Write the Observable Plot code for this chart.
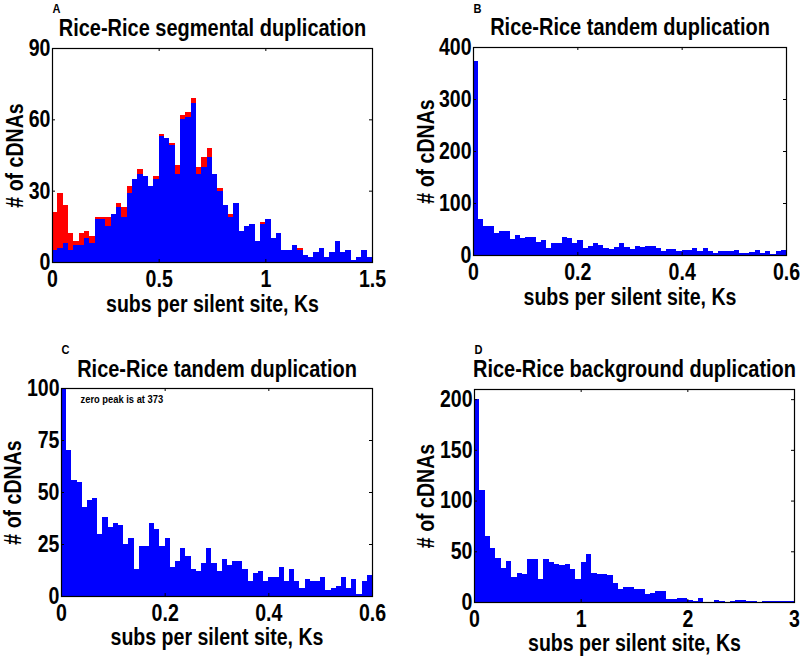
<!DOCTYPE html>
<html><head><meta charset="utf-8">
<script src="https://cdn.jsdelivr.net/npm/d3@7"></script>
<script src="https://cdn.jsdelivr.net/npm/@observablehq/plot@0.6"></script>
<style>
body{margin:0;background:#fff;}
#wrap{position:relative;width:800px;height:657px;background:#fff;overflow:hidden;}
#wrap > svg{position:absolute;}
</style></head><body><div id="wrap"></div>
<script>
// ---------- data ----------
const titles = ["Rice-Rice segmental duplication", "Rice-Rice tandem duplication", "Rice-Rice tandem duplication", "Rice-Rice background duplication"];
const letters = ["A", "B", "C", "D"];
const xLabel = "subs per silent site, Ks";
const yLabel = "# of cDNAs";
const note = "zero peak is at 373";

// Panel A: Ks bins of 0.025 (0 - 1.5), blue part and red part stacked on top
const binA = 0.025;
const segBlue = [5,6,8,5,7,7,10,8,18,18,15,20,23,19,29,35,37,36,32,35,53,52,49,37,60,61,67,37,40,44,37,30,24,19,25,13,15,16,9,16,18,10,12,5,5,7,5,3,2,4,6,2,4,9,4,5,1,2,5,2];
const segRed  = [16,23,16,7,2,5,3,3,1,1,4,0,2,4,3,0,2,0,0,1,1,0,1,4,2,2,2,3,4,4,0,1,0,1,0,0,0,0,0,1,0,0,0,0,0,0,1,0,0,0,0,0,0,0,0,0,0,0,0,0];

// Panels B and C: tandem duplication, bins of 0.01 (0 - 0.6)
const binT = 0.01;
const tandem = [373,70,56,55,43,46,47,30,38,33,35,34,25,28,13,24,24,35,32,24,28,14,17,23,19,13,12,16,23,16,12,18,15,17,17,13,7,11,12,7,9,9,14,7,13,7,4,8,7,7,9,3,4,5,9,4,8,1,7,10];

// Panel D: background duplication, bins of 0.05 (0 - 3)
const binD = 0.05;
const background = [200,110,65,53,43,34,40,25,29,28,42,42,23,42,39,37,36,37,33,23,39,47,29,28,28,27,19,13,15,15,13,13,8,9,11,11,3,3,4,4,2,1,4,0,0,2,1,0,1,2,2,1,1,0,1,1,1,1,1,1];

// ticks
const xTicksA = [0, 0.5, 1, 1.5], xTickLabelsA = ["0", "0.5", "1", "1.5"];
const yTicksA = [0, 30, 60, 90], yTickLabelsA = ["0", "30", "60", "90"];
const xTicksB = [0, 0.2, 0.4, 0.6], xTickLabelsB = ["0", "0.2", "0.4", "0.6"];
const yTicksB = [0, 100, 200, 300, 400], yTickLabelsB = ["0", "100", "200", "300", "400"];
const yTicksC = [0, 25, 50, 75, 100], yTickLabelsC = ["0", "25", "50", "75", "100"];
const xTicksD = [0, 1, 2, 3], xTickLabelsD = ["0", "1", "2", "3"];
const yTicksD = [0, 50, 100, 150, 200], yTickLabelsD = ["0", "50", "100", "150", "200"];

// ---------- helpers ----------
const FONT = '"Liberation Sans",Arial,sans-serif';
const NARROW = 0.85; // horizontal squeeze to imitate a narrow bold face
const BLUE = "#0000ff", RED = "#ff0000";
const rows = (vals, w, base) => vals.map((v, i) => ({x1: i * w, x2: (i + 1) * w, y1: base ? base[i] : 0, y2: (base ? base[i] : 0) + v}));

function panel(o) {
  const fw = o.width - o.ml - o.mr, fh = o.height - o.mt - o.mb;
  const xl = new Map(o.xTicks.map((t, i) => [t, o.xTickLabels[i]]));
  const yl = new Map(o.yTicks.map((t, i) => [t, o.yTickLabels[i]]));
  const svg = Plot.plot({
    width: o.width, height: o.height,
    marginLeft: o.ml, marginRight: o.mr, marginTop: o.mt, marginBottom: o.mb,
    x: {domain: o.xDomain, label: null},
    y: {domain: o.yDomain, label: null},
    style: {fontFamily: FONT, fontWeight: "bold", color: "black", background: "transparent", overflow: "visible"},
    marks: [
      ...o.bars,
      Plot.frame({stroke: "black", strokeWidth: 1.2}),
      Plot.tickX(o.xTicks, {x: d => d, insetTop: fh - 3, stroke: "black"}),
      Plot.tickX(o.xTicks, {x: d => d, insetBottom: fh - 3, stroke: "black"}),
      Plot.tickY(o.yTicks, {y: d => d, insetRight: fw - 3, stroke: "black"}),
      Plot.tickY(o.yTicks, {y: d => d, insetLeft: fw - 3, stroke: "black"}),
      Plot.axisX(o.xTicks, {tickSize: 0, tickPadding: 8, tickFormat: d => xl.get(d), fontSize: 23, fontWeight: "bold", label: null}),
      Plot.axisY(o.yTicks, {tickSize: 0, tickPadding: 2, tickFormat: d => yl.get(d), fontSize: 23, fontWeight: "bold", label: null}),
      Plot.text([o.title], {frameAnchor: "top", lineAnchor: "bottom", dy: o.titleDy, text: d => d, fontSize: 23.5, fontWeight: "bold"}),
      Plot.text([o.letter], {frameAnchor: "top-left", textAnchor: "start", lineAnchor: "bottom", dy: o.letterDy, text: d => d, fontSize: 13, fontWeight: "bold"}),
      Plot.text([xLabel], {frameAnchor: "bottom", lineAnchor: "bottom", dy: o.xLabelDy, text: d => d, fontSize: 23, fontWeight: "bold"}),
      Plot.text([yLabel], {frameAnchor: "left", textAnchor: "middle", lineAnchor: "bottom", rotate: -90, dx: o.yLabelDx, text: d => d, fontSize: 23, fontWeight: "bold"}),
      ...(o.extra || [])
    ]
  });
  svg.style.left = o.left + "px";
  svg.style.top = o.top + "px";
  document.getElementById("wrap").appendChild(svg);
  // squeeze text horizontally (narrow face look), keeping anchors
  svg.querySelectorAll("text").forEach(t => {
    const L = t.getComputedTextLength();
    if (L > 0) {
      t.setAttribute("textLength", (L * NARROW).toFixed(2));
      t.setAttribute("lengthAdjust", "spacingAndGlyphs");
    }
  });
}

const rect = (data, fill) => Plot.rectY(data, {x1: "x1", x2: "x2", y1: "y1", y2: "y2", fill, inset: 0, clip: true, shapeRendering: "crispEdges"});

panel({
  left: 0, top: 0, width: 400, height: 330, ml: 52, mr: 28, mt: 48, mb: 68,
  xDomain: [0, 1.5], yDomain: [0, 90],
  xTicks: xTicksA, xTickLabels: xTickLabelsA, yTicks: yTicksA, yTickLabels: yTickLabelsA,
  bars: [rect(rows(segBlue, binA), BLUE), rect(rows(segRed, binA, segBlue), RED)],
  title: titles[0], letter: letters[0], titleDy: -13, letterDy: -35.5, xLabelDy: 49, yLabelDx: -30
});

panel({
  left: 400, top: 0, width: 400, height: 330, ml: 73, mr: 14, mt: 47, mb: 75,
  xDomain: [0, 0.6], yDomain: [0, 400],
  xTicks: xTicksB, xTickLabels: xTickLabelsB, yTicks: yTicksB, yTickLabels: yTickLabelsB,
  bars: [rect(rows(tandem, binT), BLUE)],
  title: titles[1], letter: letters[1], titleDy: -13, letterDy: -35, xLabelDy: 49, yLabelDx: -40
});

panel({
  left: 0, top: 330, width: 400, height: 327, ml: 61, mr: 28, mt: 58, mb: 61,
  xDomain: [0, 0.6], yDomain: [0, 100],
  xTicks: xTicksB, xTickLabels: xTickLabelsB, yTicks: yTicksC, yTickLabels: yTickLabelsC,
  bars: [rect(rows(tandem, binT), BLUE)],
  title: titles[2], letter: letters[2], titleDy: -12, letterDy: -35, xLabelDy: 48, yLabelDx: -41,
  extra: [Plot.text([note], {frameAnchor: "top-left", textAnchor: "start", lineAnchor: "bottom", dx: 19, dy: 14, text: d => d, fontSize: 11, fontWeight: "bold"})]
});

panel({
  left: 400, top: 330, width: 400, height: 327, ml: 74, mr: 6, mt: 59, mb: 55,
  xDomain: [0, 3], yDomain: [0, 210],
  xTicks: xTicksD, xTickLabels: xTickLabelsD, yTicks: yTicksD, yTickLabels: yTickLabelsD,
  bars: [rect(rows(background, binD), BLUE)],
  title: titles[3], letter: letters[3], titleDy: -13, letterDy: -36, xLabelDy: 48, yLabelDx: -41
});
</script>
</body></html>
